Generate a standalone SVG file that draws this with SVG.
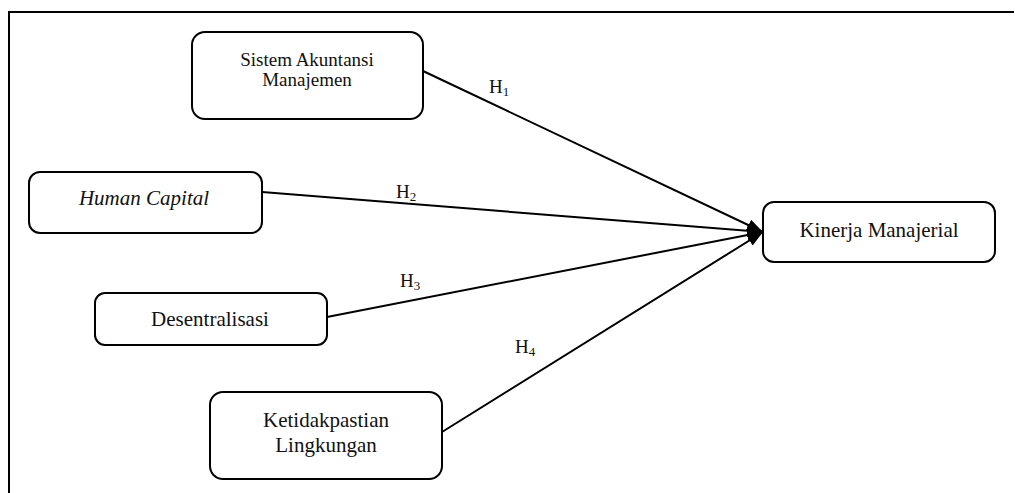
<svg xmlns="http://www.w3.org/2000/svg" width="1015" height="493" viewBox="0 0 1015 493">
<style>
.box{fill:#fff;stroke:#000;stroke-width:2}
.t{font-family:'Liberation Serif','Times New Roman',serif;font-size:21px;fill:#111;text-anchor:middle}
.s19{font-size:19px}
.h{font-family:'Liberation Serif','Times New Roman',serif;font-size:19px;fill:#111}
.sub{font-size:13px}
.ln{stroke:#000;stroke-width:2;fill:none}
</style>
<defs>
<marker id="arr" viewBox="0 0 16 12" refX="16" refY="6" markerWidth="16" markerHeight="12" markerUnits="userSpaceOnUse" orient="auto">
<path d="M0,0 L16,6 L0,12 z" fill="#000"/>
</marker>
</defs>
<rect width="1015" height="493" fill="#fff"/>
<path d="M9,493 V12 H1014" fill="none" stroke="#000" stroke-width="2"/>
<g id="connectors">
<line class="ln" x1="423" y1="71" x2="763" y2="232" marker-end="url(#arr)"/>
<line class="ln" x1="262" y1="192" x2="763" y2="232" marker-end="url(#arr)"/>
<line class="ln" x1="327" y1="317" x2="763" y2="232" marker-end="url(#arr)"/>
<line class="ln" x1="442" y1="432" x2="763" y2="232" marker-end="url(#arr)"/>
<text class="h" x="489" y="93">H<tspan class="sub" dy="3">1</tspan></text>
<text class="h" x="396" y="198">H<tspan class="sub" dy="3">2</tspan></text>
<text class="h" x="400" y="287">H<tspan class="sub" dy="3">3</tspan></text>
<text class="h" x="515" y="353">H<tspan class="sub" dy="3">4</tspan></text>
</g>
<g id="sam">
<rect class="box" x="192" y="32" width="231" height="87" rx="13"/>
<text class="t s19" x="307" y="66">Sistem Akuntansi</text>
<text class="t s19" x="307" y="86">Manajemen</text>
</g>
<g id="hc">
<rect class="box" x="29" y="172" width="233" height="61" rx="11"/>
<text class="t" x="144" y="205" font-style="italic">Human Capital</text>
</g>
<g id="des">
<rect class="box" x="95" y="293" width="232" height="52" rx="10"/>
<text class="t" x="210" y="326">Desentralisasi</text>
</g>
<g id="kl">
<rect class="box" x="210" y="392" width="232" height="87" rx="13"/>
<text class="t" x="326" y="427">Ketidakpastian</text>
<text class="t" x="326" y="452">Lingkungan</text>
</g>
<g id="km">
<rect class="box" x="763" y="202" width="232" height="60" rx="11"/>
<text class="t" x="879" y="237">Kinerja Manajerial</text>
</g>
</svg>
